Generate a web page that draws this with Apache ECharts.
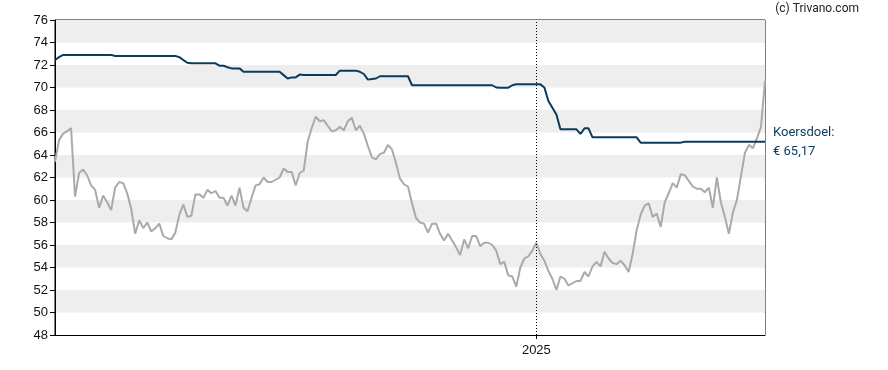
<!DOCTYPE html>
<html>
<head>
<meta charset="utf-8">
<script src="https://cdn.jsdelivr.net/npm/echarts@6/dist/echarts.min.js"></script>
<style>html,body{margin:0;padding:0;background:#fff}#c{width:888px;height:370px}</style>
</head>
<body>
<div id="c"></div>
<script>
// Period: 2024-01-07 .. 2025-06, one sample every 3 days
var startDate = '2024-01-07';
var stepDays = 3;
var yTicks = [48, 50, 52, 54, 56, 58, 60, 62, 64, 66, 68, 70, 72, 74, 76];
var yearLabel = '2025';

var price = [
  63.4, 65.3, 65.9, 66.1, 66.4, 60.3, 62.4, 62.7, 62.2, 61.3,
  60.9, 59.3, 60.4, 59.8, 59.1, 61.1, 61.6, 61.5, 60.6, 59.2,
  57.0, 58.2, 57.5, 58.0, 57.2, 57.5, 57.9, 56.8, 56.6, 56.5,
  57.1, 58.7, 59.6, 58.5, 58.6, 60.5, 60.5, 60.2, 60.9, 60.6,
  60.8, 60.2, 60.2, 59.5, 60.4, 59.5, 61.1, 59.3, 59.0, 60.2,
  61.3, 61.4, 62.0, 61.6, 61.6, 61.8, 62.0, 62.8, 62.5, 62.5,
  61.3, 62.4, 62.6, 65.2, 66.4, 67.4, 67.0, 67.1, 66.6, 66.1,
  66.2, 66.5, 66.2, 67.0, 67.3, 66.2, 66.6, 65.9, 64.8, 63.8,
  63.6, 64.1, 64.2, 64.9, 64.5, 63.3, 61.9, 61.4, 61.2, 59.7,
  58.4, 58.0, 57.9, 57.1, 57.9, 57.9, 57.0, 56.4, 57.0, 56.4,
  55.8, 55.1, 56.5, 55.7, 56.8, 56.8, 55.9, 56.2, 56.2, 56.0,
  55.5, 54.3, 54.5, 53.3, 53.2, 52.3, 54.0, 54.8, 55.0, 55.5,
  56.2, 55.2, 54.6, 53.7, 53.0, 52.0, 53.2, 53.0, 52.4, 52.6,
  52.8, 52.8, 53.6, 53.2, 54.1, 54.5, 54.1, 55.4, 54.8, 54.4,
  54.3, 54.6, 54.2, 53.6, 55.2, 57.3, 58.7, 59.5, 59.7, 58.5,
  58.8, 57.6, 59.8, 60.6, 61.5, 61.1, 62.3, 62.2, 61.7, 61.2,
  61.0, 61.0, 60.7, 61.1, 59.3, 62.0, 59.8, 58.5, 57.0, 58.9,
  60.0, 62.1, 64.2, 64.9, 64.6, 65.5, 66.5, 70.6
];

var target = [
  72.44, 72.7, 72.9, 72.9, 72.9, 72.9, 72.9, 72.9, 72.9, 72.9,
  72.9, 72.9, 72.9, 72.9, 72.9, 72.8, 72.8, 72.8, 72.8, 72.8,
  72.8, 72.8, 72.8, 72.8, 72.8, 72.8, 72.8, 72.8, 72.8, 72.8,
  72.8, 72.7, 72.44, 72.2, 72.15, 72.15, 72.15, 72.15, 72.15, 72.15,
  72.15, 71.94, 71.94, 71.8, 71.7, 71.7, 71.7, 71.4, 71.4, 71.4,
  71.4, 71.4, 71.4, 71.4, 71.4, 71.4, 71.4, 71.1, 70.8, 70.9,
  70.9, 71.15, 71.11, 71.11, 71.11, 71.11, 71.11, 71.11, 71.11, 71.11,
  71.11, 71.5, 71.5, 71.5, 71.5, 71.5, 71.4, 71.2, 70.7, 70.76,
  70.8, 71.0, 71.0, 71.0, 71.0, 71.0, 71.0, 71.0, 71.0, 70.2,
  70.2, 70.2, 70.2, 70.2, 70.2, 70.2, 70.2, 70.2, 70.2, 70.2,
  70.2, 70.2, 70.2, 70.2, 70.2, 70.2, 70.2, 70.2, 70.2, 70.2,
  70.0, 69.98, 69.98, 69.98, 70.2, 70.28, 70.28, 70.28, 70.28, 70.28,
  70.28, 70.28, 70.0, 68.8, 68.2, 67.6, 66.28, 66.28, 66.28, 66.28,
  66.28, 65.87, 66.37, 66.37, 65.57, 65.57, 65.57, 65.57, 65.57, 65.57,
  65.57, 65.57, 65.57, 65.57, 65.57, 65.57, 65.1, 65.1, 65.1, 65.1,
  65.1, 65.1, 65.1, 65.1, 65.1, 65.1, 65.1, 65.17, 65.17, 65.17,
  65.17, 65.17, 65.17, 65.17, 65.17, 65.17, 65.17, 65.17, 65.17, 65.17,
  65.17, 65.17, 65.17, 65.17, 65.17, 65.17, 65.17, 65.17
];
var targetLabel = ['Koersdoel:', '\u20ac 65,17'];
var copyright = '(c) Trivano.com';

// build category dates
var dates = [];
var d0 = new Date(startDate + 'T00:00:00Z');
for (var i = 0; i < price.length; i++) {
  var d = new Date(d0.getTime() + i * stepDays * 86400000);
  dates.push(d.toISOString().slice(0, 10));
}
function isYearStart(idx, val) { return String(val).slice(5) === '01-01'; }
var yearDate = dates.filter(function (v) { return v.slice(5) === '01-01'; })[0];

var navy = '#0c3a5b';
var chart = echarts.init(document.getElementById('c'));
chart.setOption({
  animation: false,
  backgroundColor: '#fff',
  grid: { left: 55, right: 123, top: 20, bottom: 35, show: true, borderColor: '#000', borderWidth: 1, backgroundColor: 'transparent' },
  graphic: [{
    type: 'text', right: 29, top: 3,
    style: { text: copyright, fontFamily: 'Roboto, Arial, sans-serif', fontSize: 12, fill: '#222' }
  }],
  xAxis: {
    type: 'category', data: dates, boundaryGap: false,
    axisLine: { lineStyle: { color: '#000', width: 1 } },
    axisTick: { show: true, interval: isYearStart, length: 4, lineStyle: { color: '#000' } },
    axisLabel: {
      interval: isYearStart, margin: 9,
      formatter: function (v) { return v.slice(5) === '01-01' ? v.slice(0, 4) : ''; },
      fontFamily: 'Liberation Sans, Arial, sans-serif', fontSize: 13, color: '#111'
    },
    splitLine: { show: false }
  },
  yAxis: {
    type: 'value', min: yTicks[0], max: yTicks[yTicks.length - 1], interval: 2,
    axisLine: { show: true, lineStyle: { color: '#000', width: 1 } },
    axisTick: { show: true, length: 5, lineStyle: { color: '#000' } },
    axisLabel: { margin: 7, fontFamily: 'Liberation Sans, Arial, sans-serif', fontSize: 13, color: '#111' },
    splitLine: { show: false },
    splitArea: { show: true, areaStyle: { color: ['#ffffff', '#eeeeee'] } }
  },
  series: [
    {
      type: 'line', data: price, symbol: 'none', z: 2,
      lineStyle: { color: '#aaaaaa', width: 2 },
      markLine: {
        silent: true, symbol: 'none', label: { show: false },
        lineStyle: { color: '#000', type: [1, 2], width: 1 },
        data: [{ xAxis: yearDate }]
      }
    },
    {
      type: 'line', data: target, symbol: 'none', z: 3,
      lineStyle: { color: navy, width: 2 },
      endLabel: {
        show: true, formatter: targetLabel.join('\n'), distance: 8,
        fontFamily: 'Roboto, Arial, sans-serif', fontSize: 13, lineHeight: 19, color: navy, align: 'left'
      }
    }
  ]
});
</script>
</body>
</html>
